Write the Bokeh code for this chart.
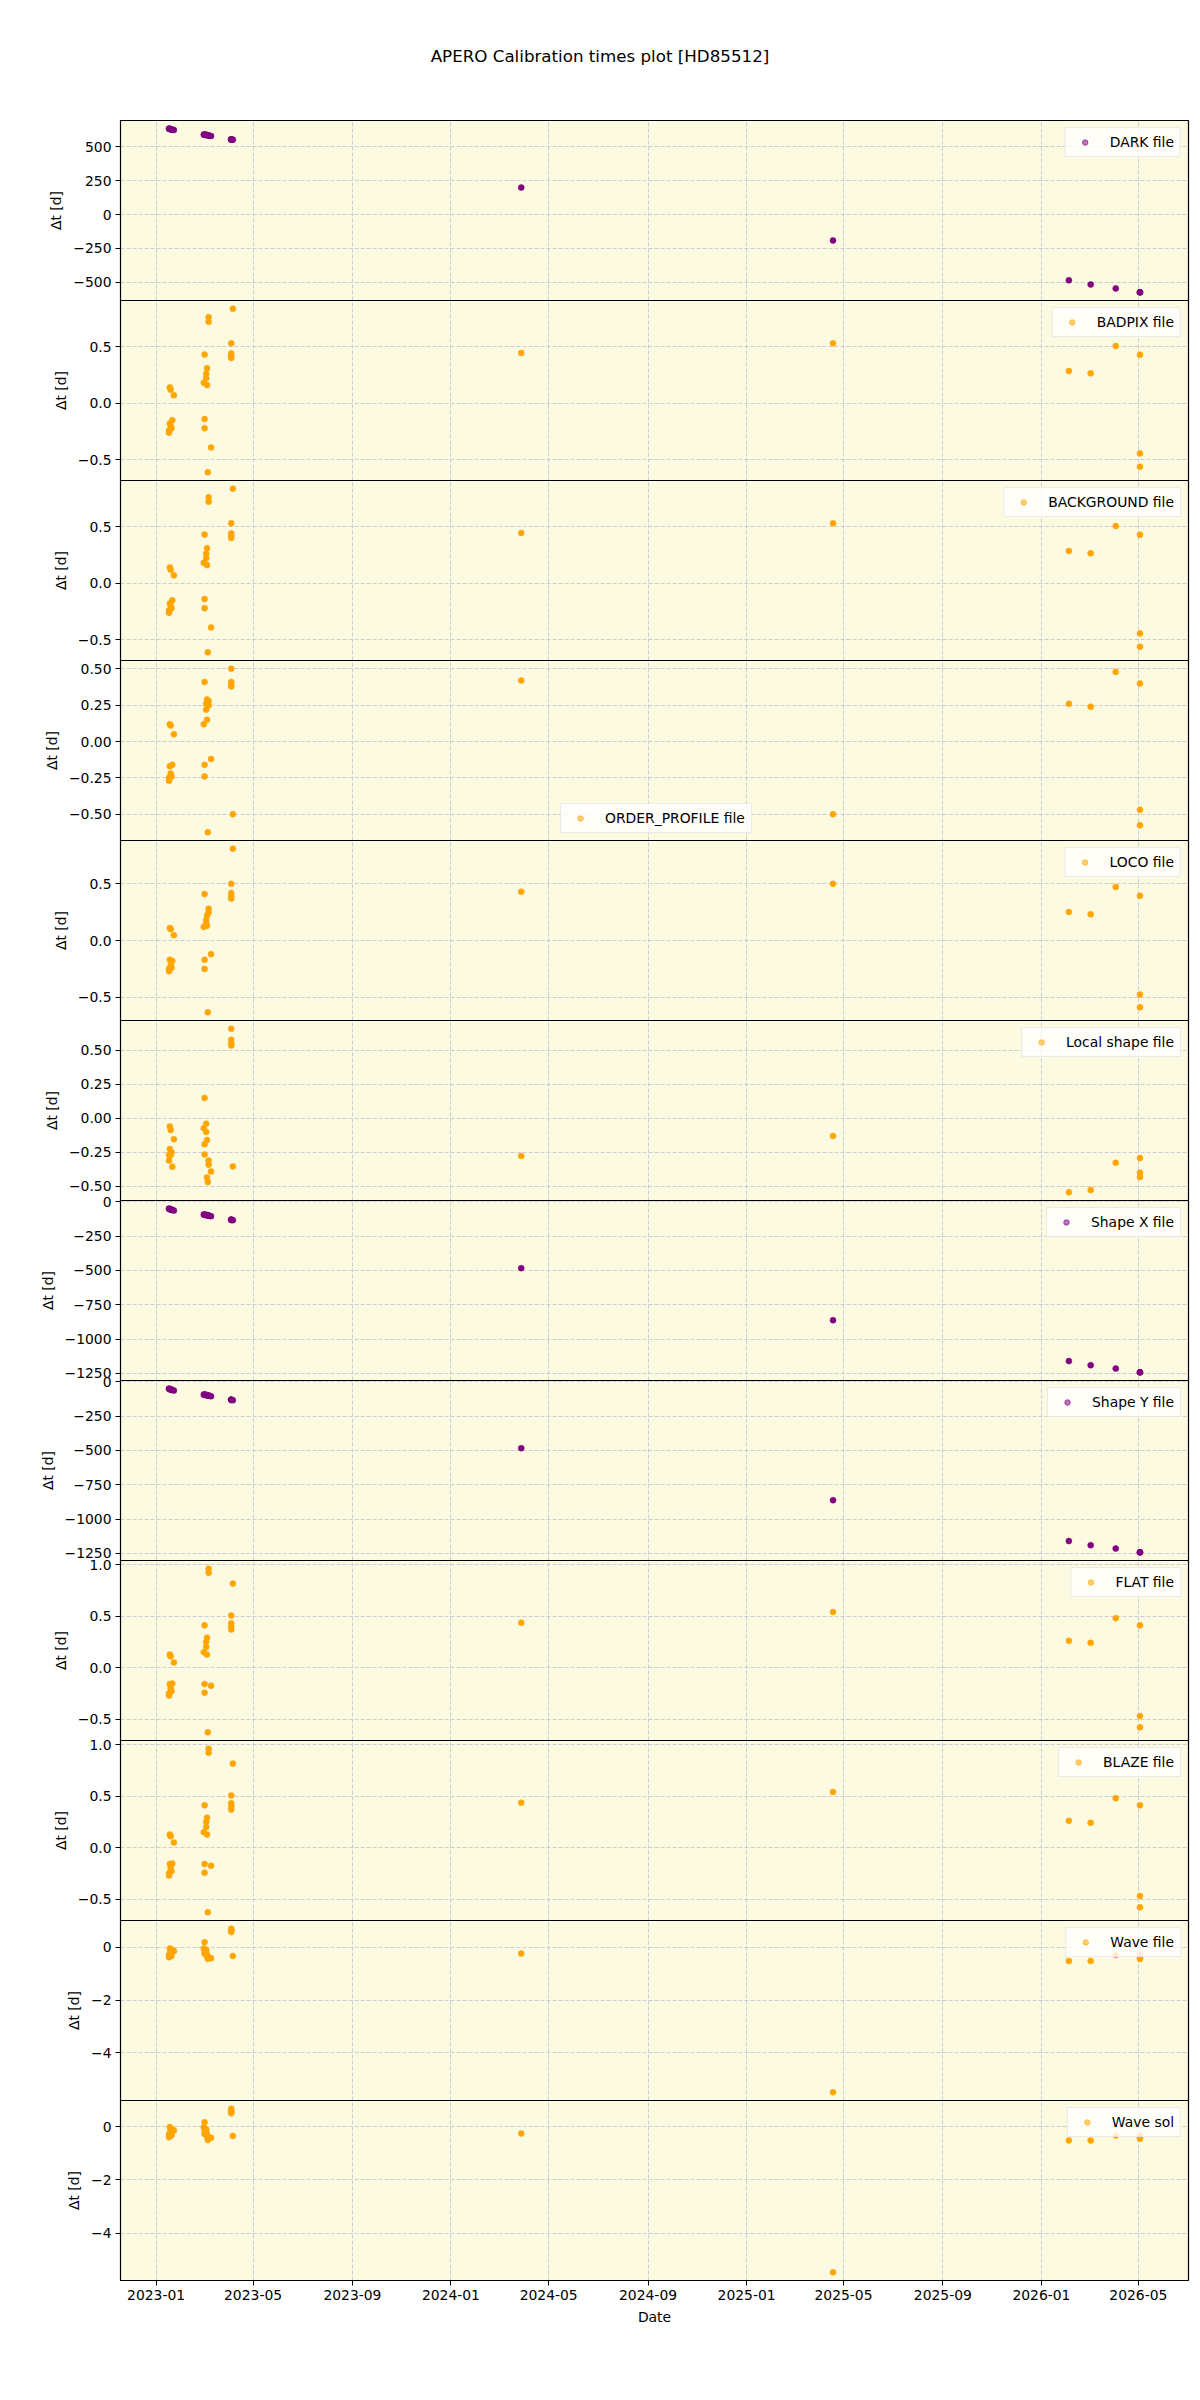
import numpy as np
import pandas as pd
from bokeh.plotting import figure
from bokeh.layouts import column
from bokeh.models import (Range1d, FixedTicker, CustomJSTickFormatter, DatetimeTickFormatter,
                          Legend, LegendItem, Div)
from bokeh.embed import file_html
from bokeh.resources import INLINE

TITLE = "APERO Calibration times plot [HD85512]"

# observation nights (one entry per science file)
obs_dates = [
    "2023-01-18", "2023-01-17", "2023-01-19", "2023-01-18", "2023-01-17", "2023-01-19",
    "2023-01-21", "2023-01-20", "2023-01-23",
    "2023-03-01", "2023-03-02", "2023-03-02", "2023-03-02", "2023-03-04", "2023-03-04",
    "2023-03-05", "2023-03-05", "2023-03-06", "2023-03-07", "2023-03-07", "2023-03-10",
    "2023-04-04", "2023-04-04", "2023-04-04", "2023-04-04", "2023-04-06",
    "2024-03-28", "2025-04-18",
    "2026-02-04", "2026-03-03", "2026-04-03", "2026-05-03", "2026-05-03", "2026-05-03",
]

# time offset to the calibration file used, in days
dark_dt = [630, 632, 628, 630, 632, 627, 625, 626, 622,
           589, 588, 588, 588, 586, 586, 585, 585, 583, 582, 582, 578,
           553, 553, 553, 553, 551,
           198, -191,
           -485, -515, -544, -573, -573, -573]
badpix_dt = [0.14, -0.24, 0.12, -0.18, -0.26, -0.20, -0.15, -0.22, 0.07,
             0.18, 0.43, -0.14, -0.22, 0.26, 0.22, 0.31, 0.16, -0.61, 0.76, 0.72, -0.39,
             0.53, 0.44, 0.42, 0.40, 0.835,
             0.444, 0.53,
             0.285, 0.264, 0.505, 0.428, -0.443, -0.561]
background_dt = list(badpix_dt)
order_profile_dt = [0.12, -0.27, 0.11, -0.17, -0.25, -0.22, -0.16, -0.24, 0.05,
                    0.12, 0.41, -0.16, -0.24, 0.26, 0.22, 0.29, 0.15, -0.625, 0.28, 0.25, -0.12,
                    0.502, 0.41, 0.39, 0.38, -0.50,
                    0.42, -0.50,
                    0.26, 0.24, 0.48, 0.40, -0.47, -0.576]
loco_dt = [0.11, -0.27, 0.10, -0.17, -0.25, -0.22, -0.18, -0.24, 0.047,
           0.12, 0.41, -0.17, -0.25, 0.18, 0.15, 0.22, 0.13, -0.633, 0.28, 0.25, -0.12,
           0.50, 0.42, 0.39, 0.37, 0.81,
           0.43, 0.50,
           0.252, 0.232, 0.472, 0.395, -0.476, -0.589]
local_shape_dt = [-0.06, -0.27, -0.086, -0.226, -0.31, -0.27, -0.356, -0.25, -0.154,
                  -0.074, 0.149, -0.19, -0.265, -0.04, -0.10, -0.434, -0.16, -0.468, -0.31, -0.34, -0.39,
                  0.657, 0.575, 0.55, 0.534, -0.353,
                  -0.277, -0.13,
                  -0.543, -0.526, -0.326, -0.292, -0.40, -0.43]
shape_x_dt = [-52, -49, -54, -52, -50, -56, -58, -57, -63,
              -92, -93, -93, -93, -95, -95, -96, -97, -98, -99, -99, -104,
              -130, -130, -130, -130, -133,
              -483, -863,
              -1161, -1191, -1216, -1243, -1243, -1243]
shape_y_dt = list(shape_x_dt)
flat_dt = [0.126, -0.27, 0.11, -0.16, -0.25, -0.20, -0.155, -0.23, 0.049,
           0.15, 0.41, -0.16, -0.243, 0.25, 0.20, 0.29, 0.126, -0.628, 0.96, 0.92, -0.175,
           0.505, 0.43, 0.40, 0.37, 0.815,
           0.436, 0.54,
           0.26, 0.24, 0.48, 0.41, -0.47, -0.58]
blaze_dt = list(flat_dt)
wave_file_dt = [-0.05, -0.30, -0.12, -0.25, -0.38, -0.20, -0.10, -0.33, -0.15,
                -0.05, 0.19, -0.15, -0.25, -0.10, -0.20, -0.30, -0.35, -0.44, -0.38, -0.40, -0.42,
                0.70, 0.62, 0.57, 0.65, -0.33,
                -0.24, -5.49,
                -0.52, -0.52, -0.30, -0.30, -0.40, -0.45]
wave_sol_dt = [-0.02, -0.30, -0.12, -0.25, -0.40, -0.20, -0.10, -0.33, -0.15,
               -0.03, 0.16, -0.15, -0.28, -0.10, -0.20, -0.30, -0.38, -0.50, -0.40, -0.45, -0.42,
               0.67, 0.60, 0.50, 0.55, -0.35,
               -0.26, -5.46,
               -0.52, -0.52, -0.33, -0.33, -0.40, -0.46]

# panel labels, y tick values and tick decimals
labels = ["DARK file", "BADPIX file", "BACKGROUND file", "ORDER_PROFILE file", "LOCO file",
          "Local shape file", "Shape X file", "Shape Y file", "FLAT file", "BLAZE file",
          "Wave file", "Wave sol"]
series = [dark_dt, badpix_dt, background_dt, order_profile_dt, loco_dt, local_shape_dt,
          shape_x_dt, shape_y_dt, flat_dt, blaze_dt, wave_file_dt, wave_sol_dt]
y_ticks = [
    [-500, -250, 0, 250, 500],
    [-0.5, 0.0, 0.5],
    [-0.5, 0.0, 0.5],
    [-0.5, -0.25, 0.0, 0.25, 0.5],
    [-0.5, 0.0, 0.5],
    [-0.5, -0.25, 0.0, 0.25, 0.5],
    [-1250, -1000, -750, -500, -250, 0],
    [-1250, -1000, -750, -500, -250, 0],
    [-0.5, 0.0, 0.5, 1.0],
    [-0.5, 0.0, 0.5, 1.0],
    [-4, -2, 0],
    [-4, -2, 0],
]
tick_decimals = [0, 1, 1, 2, 1, 2, 0, 0, 1, 1, 0, 0]
x_tick_labels = ["2023-01", "2023-05", "2023-09", "2024-01", "2024-05", "2024-09",
                 "2025-01", "2025-05", "2025-09", "2026-01", "2026-05"]

PURPLE = "#800080"
ORANGE = "#FFA500"
colors = [PURPLE, ORANGE, ORANGE, ORANGE, ORANGE, ORANGE, PURPLE, PURPLE,
          ORANGE, ORANGE, ORANGE, ORANGE]

FONT = "DejaVu Sans"
FS = "13.9px"
W = 1200
PANEL_H = 180
LEFT, RIGHT = 120, 12
OVER = 12          # transparent border that lets edge tick labels spill into neighbours

dates = pd.to_datetime(obs_dates)
x_pad = (dates.max() - dates.min()) * 0.05
x_range = Range1d(dates.min() - x_pad, dates.max() + x_pad)
x_ticker = FixedTicker(ticks=[pd.Timestamp(t + "-01").value / 1e6 for t in x_tick_labels])


def style_axis(ax):
    ax.major_label_text_font = FONT
    ax.major_label_text_font_size = FS
    ax.major_label_text_color = "black"
    ax.major_label_standoff = 4
    ax.major_tick_out = 5
    ax.major_tick_in = 0
    ax.minor_tick_out = 0
    ax.minor_tick_in = 0
    ax.major_tick_line_color = "black"
    ax.axis_line_color = "black"
    ax.axis_label_text_font = FONT
    ax.axis_label_text_font_size = FS
    ax.axis_label_text_font_style = "normal"
    ax.axis_label_text_color = "black"
    ax.axis_label_standoff = 6


figs = []
n = len(labels)
for i, (lab, vals, col, ticks, dec) in enumerate(zip(labels, series, colors, y_ticks, tick_decimals)):
    last = i == n - 1
    vals = np.asarray(vals, dtype=float)
    lo, hi = vals.min(), vals.max()
    pad = 0.05 * (hi - lo)
    bottom = 120 if last else OVER
    p = figure(width=W, height=PANEL_H + OVER + bottom,
               x_range=x_range, y_range=Range1d(lo - pad, hi + pad),
               output_backend="svg", toolbar_location=None,
               min_border_left=LEFT, min_border_right=RIGHT,
               min_border_top=OVER, min_border_bottom=bottom,
               margin=(-OVER, 0, 0 if last else -OVER, 0))
    p.background_fill_color = "#fcfae1"
    p.border_fill_alpha = 0
    p.outline_line_color = "black"
    p.outline_line_width = 1.2

    yt = FixedTicker(ticks=ticks)
    p.yaxis.ticker = yt
    p.ygrid.ticker = yt
    p.xaxis.ticker = x_ticker
    p.xgrid.ticker = x_ticker
    p.yaxis.formatter = CustomJSTickFormatter(args=dict(d=dec), code="""
        const s = Math.abs(tick).toFixed(d);
        return (tick < -1e-9 ? "\u2212" : "") + s;
    """)
    for g in (p.xgrid, p.ygrid):
        g.grid_line_color = "#c6c6d0"
        g.grid_line_dash = "4 2"
        g.grid_line_width = 0.9

    p.yaxis.axis_label = "\u0394t [d]"
    style_axis(p.yaxis)

    if last:
        p.xaxis.formatter = DatetimeTickFormatter(days="%Y-%m", months="%Y-%m", years="%Y-%m")
        p.xaxis.axis_label = "Date"
        style_axis(p.xaxis)
    else:
        p.xaxis.visible = False

    p.scatter(x=dates, y=vals, size=6, fill_color=col, line_color=col, line_width=0.5)
    # lighter swatch used only for the legend entry (its point is not plotted)
    swatch = p.scatter(x=[dates[0]], y=[np.nan], size=6, fill_color=col, line_color=col, alpha=0.55)

    loc = (440, 7) if lab == "ORDER_PROFILE file" else "top_right"
    leg = Legend(items=[LegendItem(label=lab, renderers=[swatch])], location=loc,
                 margin=7, padding=6, glyph_width=26, glyph_height=14,
                 label_standoff=12, label_height=14,
                 label_text_font=FONT, label_text_font_size=FS, label_text_color="black",
                 border_line_color="#d6d6d6", border_line_width=1,
                 background_fill_color="white", background_fill_alpha=0.8)
    p.add_layout(leg)
    figs.append(p)

title = Div(text=f'<div style="position:absolute; left:0; top:45px; width:{W}px; '
                 f'text-align:center; font-family:\'{FONT}\'; font-size:16.7px; color:black;">'
                 f'{TITLE}</div>',
            width=W, height=120, margin=(0, 0, 0, 0))

layout = column(title, *figs, spacing=0)
open("out.html", "w").write(file_html(layout, INLINE, title=TITLE))
